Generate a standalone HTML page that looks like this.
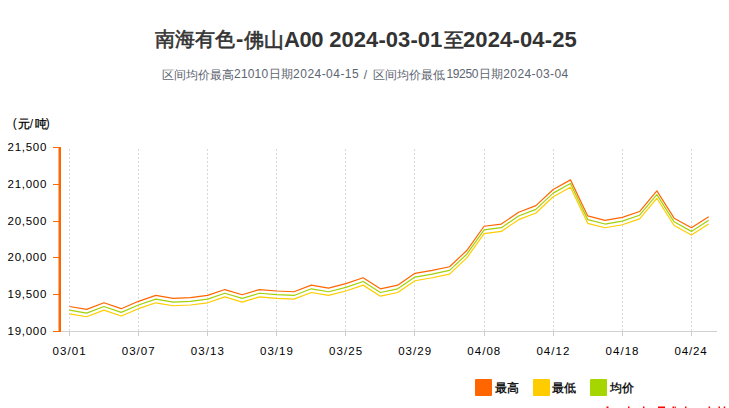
<!DOCTYPE html>
<html><head><meta charset="utf-8"><style>
html,body{margin:0;padding:0;background:#fff;width:729px;height:408px;overflow:hidden}
svg{display:block}
text{font-family:"Liberation Sans",sans-serif}
</style></head><body>
<svg width="729" height="408" viewBox="0 0 729 408">
<text x="154.70" y="46.45" font-size="20" font-weight="normal" fill="#333333" letter-spacing="0.000" stroke="#333333" stroke-width="0.6">南海有色</text>
<text x="236.10" y="46.00" font-size="22" font-weight="bold" fill="#333333" letter-spacing="0.000">-</text>
<text x="243.70" y="46.80" font-size="20" font-weight="normal" fill="#333333" letter-spacing="0.000" stroke="#333333" stroke-width="0.6">佛山</text>
<text x="284.10" y="46.60" font-size="22" font-weight="bold" fill="#333333" letter-spacing="-0.500">A00</text>
<text x="329.20" y="46.60" font-size="22" font-weight="bold" fill="#333333" letter-spacing="0.067">2024-03-01</text>
<text x="443.50" y="46.85" font-size="20" font-weight="normal" fill="#333333" letter-spacing="0.000" stroke="#333333" stroke-width="0.6">至</text>
<text x="463.00" y="46.60" font-size="22" font-weight="bold" fill="#333333" letter-spacing="0.133">2024-04-25</text>
<text x="162.00" y="78.90" font-size="12" font-weight="normal" fill="#5d6570" letter-spacing="0.000">区间均价最高</text>
<text x="234.10" y="78.40" font-size="12" font-weight="normal" fill="#5d6570" letter-spacing="0.150">21010</text>
<text x="269.10" y="78.40" font-size="12" font-weight="normal" fill="#5d6570" letter-spacing="0.000">日期</text>
<text x="293.10" y="78.40" font-size="12" font-weight="normal" fill="#5d6570" letter-spacing="0.467">2024-04-15</text>
<text x="363.85" y="79.40" font-size="12" font-weight="normal" fill="#5d6570" letter-spacing="0.000">/</text>
<text x="372.50" y="78.90" font-size="12" font-weight="normal" fill="#5d6570" letter-spacing="0.000">区间均价最低</text>
<text x="446.40" y="78.40" font-size="12" font-weight="normal" fill="#5d6570" letter-spacing="-0.325">19250</text>
<text x="479.30" y="78.40" font-size="12" font-weight="normal" fill="#5d6570" letter-spacing="0.000">日期</text>
<text x="503.30" y="78.40" font-size="12" font-weight="normal" fill="#5d6570" letter-spacing="0.389">2024-03-04</text>
<text x="12.85" y="127.35" font-size="12" font-weight="normal" fill="#000" letter-spacing="0.000">(</text>
<text x="17.60" y="127.90" font-size="12" font-weight="normal" fill="#000" letter-spacing="0.000" stroke="#000" stroke-width="0.3">元</text>
<text x="29.65" y="128.40" font-size="12" font-weight="normal" fill="#000" letter-spacing="0.000">/</text>
<text x="34.70" y="127.90" font-size="12" font-weight="normal" fill="#000" letter-spacing="0.000" stroke="#000" stroke-width="0.3">吨</text>
<text x="45.65" y="127.35" font-size="12" font-weight="normal" fill="#000" letter-spacing="0.000">)</text>
<text x="494.95" y="392.00" font-size="12" font-weight="normal" fill="#000" letter-spacing="0.000" stroke="#000" stroke-width="0.3">最高</text>
<text x="552.40" y="392.00" font-size="12" font-weight="normal" fill="#000" letter-spacing="0.000" stroke="#000" stroke-width="0.3">最低</text>
<text x="609.90" y="391.50" font-size="12" font-weight="normal" fill="#000" letter-spacing="0.000" stroke="#000" stroke-width="0.3">均价</text>
<text x="52.60" y="354.80" font-size="11.5" font-weight="normal" fill="#000" letter-spacing="1.050">03/01</text>
<text x="121.71" y="354.80" font-size="11.5" font-weight="normal" fill="#000" letter-spacing="1.050">03/07</text>
<text x="190.82" y="354.80" font-size="11.5" font-weight="normal" fill="#000" letter-spacing="1.050">03/13</text>
<text x="259.94" y="354.80" font-size="11.5" font-weight="normal" fill="#000" letter-spacing="1.050">03/19</text>
<text x="329.05" y="354.80" font-size="11.5" font-weight="normal" fill="#000" letter-spacing="1.050">03/25</text>
<text x="398.16" y="354.80" font-size="11.5" font-weight="normal" fill="#000" letter-spacing="1.050">03/29</text>
<text x="467.27" y="354.80" font-size="11.5" font-weight="normal" fill="#000" letter-spacing="1.050">04/08</text>
<text x="536.38" y="354.80" font-size="11.5" font-weight="normal" fill="#000" letter-spacing="1.050">04/12</text>
<text x="605.50" y="354.80" font-size="11.5" font-weight="normal" fill="#000" letter-spacing="1.050">04/18</text>
<text x="674.61" y="354.80" font-size="11.5" font-weight="normal" fill="#000" letter-spacing="0.800">04/24</text>
<text x="7.60" y="335.00" font-size="11.5" font-weight="normal" fill="#000" letter-spacing="0.720">19,000</text>
<text x="7.60" y="298.20" font-size="11.5" font-weight="normal" fill="#000" letter-spacing="0.720">19,500</text>
<text x="7.60" y="261.40" font-size="11.5" font-weight="normal" fill="#000" letter-spacing="0.720">20,000</text>
<text x="7.60" y="224.60" font-size="11.5" font-weight="normal" fill="#000" letter-spacing="0.720">20,500</text>
<text x="7.60" y="187.80" font-size="11.5" font-weight="normal" fill="#000" letter-spacing="0.720">21,000</text>
<text x="7.60" y="151.00" font-size="11.5" font-weight="normal" fill="#000" letter-spacing="0.720">21,500</text>

<line x1="69.5" y1="149" x2="69.5" y2="331" stroke="#d8d8d8" stroke-dasharray="2,2"/><line x1="69.5" y1="331" x2="69.5" y2="336" stroke="#cccccc"/><line x1="138.5" y1="149" x2="138.5" y2="331" stroke="#d8d8d8" stroke-dasharray="2,2"/><line x1="138.5" y1="331" x2="138.5" y2="336" stroke="#cccccc"/><line x1="207.5" y1="149" x2="207.5" y2="331" stroke="#d8d8d8" stroke-dasharray="2,2"/><line x1="207.5" y1="331" x2="207.5" y2="336" stroke="#cccccc"/><line x1="276.5" y1="149" x2="276.5" y2="331" stroke="#d8d8d8" stroke-dasharray="2,2"/><line x1="276.5" y1="331" x2="276.5" y2="336" stroke="#cccccc"/><line x1="345.5" y1="149" x2="345.5" y2="331" stroke="#d8d8d8" stroke-dasharray="2,2"/><line x1="345.5" y1="331" x2="345.5" y2="336" stroke="#cccccc"/><line x1="414.5" y1="149" x2="414.5" y2="331" stroke="#d8d8d8" stroke-dasharray="2,2"/><line x1="414.5" y1="331" x2="414.5" y2="336" stroke="#cccccc"/><line x1="484.5" y1="149" x2="484.5" y2="331" stroke="#d8d8d8" stroke-dasharray="2,2"/><line x1="484.5" y1="331" x2="484.5" y2="336" stroke="#cccccc"/><line x1="553.5" y1="149" x2="553.5" y2="331" stroke="#d8d8d8" stroke-dasharray="2,2"/><line x1="553.5" y1="331" x2="553.5" y2="336" stroke="#cccccc"/><line x1="622.5" y1="149" x2="622.5" y2="331" stroke="#d8d8d8" stroke-dasharray="2,2"/><line x1="622.5" y1="331" x2="622.5" y2="336" stroke="#cccccc"/><line x1="691.5" y1="149" x2="691.5" y2="331" stroke="#d8d8d8" stroke-dasharray="2,2"/><line x1="691.5" y1="331" x2="691.5" y2="336" stroke="#cccccc"/>
<line x1="60" y1="331.5" x2="717" y2="331.5" stroke="#d0d0d0"/>
<line x1="53" y1="331.5" x2="60" y2="331.5" stroke="#ff6600"/><line x1="53" y1="294.5" x2="60" y2="294.5" stroke="#ff6600"/><line x1="53" y1="257.5" x2="60" y2="257.5" stroke="#ff6600"/><line x1="53" y1="221.5" x2="60" y2="221.5" stroke="#ff6600"/><line x1="53" y1="184.5" x2="60" y2="184.5" stroke="#ff6600"/><line x1="53" y1="147.5" x2="60" y2="147.5" stroke="#ff6600"/>
<line x1="59.75" y1="147" x2="59.75" y2="332" stroke="#ff6600" stroke-width="2.5"/>
<polyline fill="none" stroke="#ffcc00" stroke-width="1.2" stroke-linejoin="round" points="69.40,313.84 86.68,316.78 103.96,310.16 121.23,316.04 138.51,308.68 155.79,302.80 173.07,305.74 190.35,305.00 207.62,302.80 224.90,296.91 242.18,302.06 259.46,296.91 276.74,298.38 294.01,299.12 311.29,292.49 328.57,295.44 345.85,291.02 363.13,285.13 380.40,296.17 397.68,292.49 414.96,280.72 432.24,277.77 449.52,274.09 466.79,257.90 484.07,233.61 501.35,231.40 518.63,219.63 535.91,213.00 553.18,196.81 570.46,187.24 587.74,223.31 605.02,227.72 622.30,224.78 639.57,218.89 656.85,198.28 674.13,225.52 691.41,235.08 708.69,224.04"/>
<polyline fill="none" stroke="#a2d10a" stroke-width="1.2" stroke-linejoin="round" points="69.40,310.16 86.68,313.10 103.96,306.48 121.23,312.36 138.51,305.00 155.79,299.12 173.07,302.06 190.35,301.32 207.62,299.12 224.90,293.23 242.18,298.38 259.46,293.23 276.74,294.70 294.01,295.44 311.29,288.81 328.57,291.76 345.85,287.34 363.13,281.45 380.40,292.49 397.68,288.81 414.96,277.04 432.24,274.09 449.52,270.41 466.79,254.22 484.07,229.93 501.35,227.72 518.63,215.95 535.91,209.32 553.18,193.13 570.46,183.56 587.74,219.63 605.02,224.04 622.30,221.10 639.57,215.21 656.85,194.60 674.13,221.84 691.41,231.40 708.69,220.36"/>
<polyline fill="none" stroke="#ff6600" stroke-width="1.2" stroke-linejoin="round" points="69.40,306.48 86.68,309.42 103.96,302.80 121.23,308.68 138.51,301.32 155.79,295.44 173.07,298.38 190.35,297.64 207.62,295.44 224.90,289.55 242.18,294.70 259.46,289.55 276.74,291.02 294.01,291.76 311.29,285.13 328.57,288.08 345.85,283.66 363.13,277.77 380.40,288.81 397.68,285.13 414.96,273.36 432.24,270.41 449.52,266.73 466.79,250.54 484.07,226.25 501.35,224.04 518.63,212.27 535.91,205.64 553.18,189.45 570.46,179.88 587.74,215.95 605.02,220.36 622.30,217.42 639.57,211.53 656.85,190.92 674.13,218.16 691.41,227.72 708.69,216.68"/>
<rect x="475" y="379" width="17" height="17" rx="1" fill="#ff6600"/>
<rect x="533" y="379" width="17" height="17" rx="1" fill="#ffcc00"/>
<rect x="590" y="379" width="17" height="17" rx="1" fill="#a6d600"/>
<rect x="606.5" y="406.5" width="2" height="1.5" fill="#ff0000"/><rect x="628" y="406.5" width="1.5" height="1.5" fill="#ff0000"/><rect x="643" y="406.5" width="1.5" height="1.5" fill="#ff0000"/><rect x="658" y="406.5" width="7" height="1.5" fill="#ff0000"/><rect x="672.5" y="406.5" width="1.5" height="1.5" fill="#ff0000"/><rect x="674.6" y="406.5" width="1.2" height="1.5" fill="#ff0000"/><rect x="685" y="406.5" width="1.5" height="1.5" fill="#ff0000"/><rect x="708.6" y="406.5" width="1.5" height="1.5" fill="#ff0000"/><rect x="718.5" y="406.5" width="1.5" height="1.5" fill="#ff0000"/><rect x="723.7" y="406.5" width="1.5" height="1.5" fill="#ff0000"/>
</svg>
</body></html>
